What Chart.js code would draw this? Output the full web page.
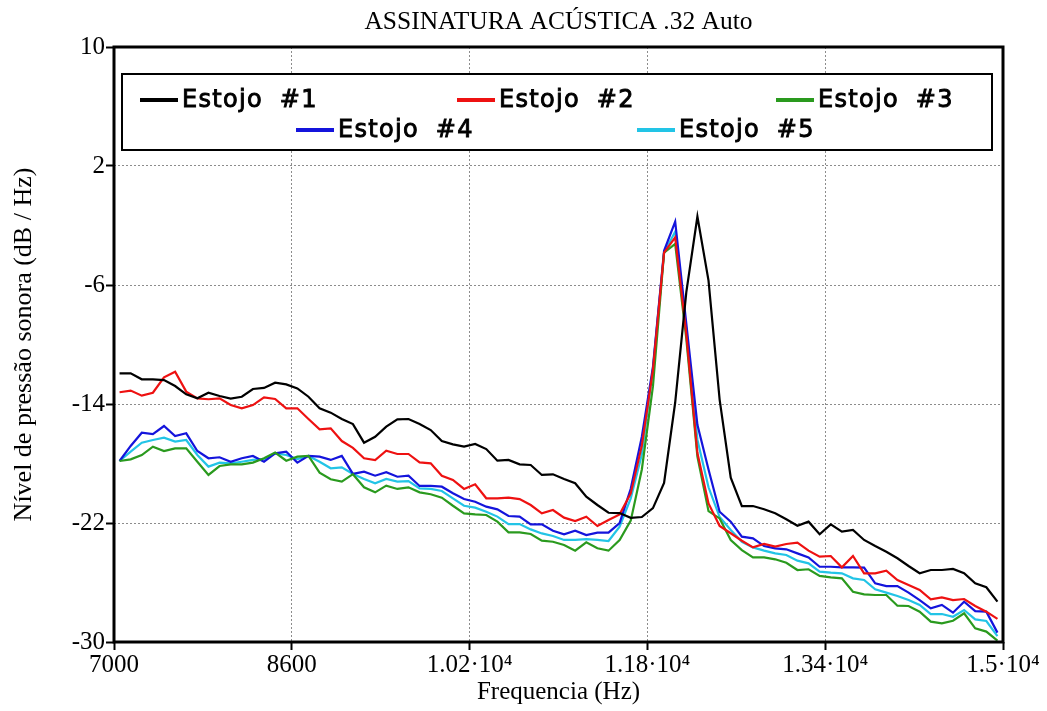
<!DOCTYPE html>
<html>
<head>
<meta charset="utf-8">
<script src="https://cdn.jsdelivr.net/npm/chart.js@4.4.1/dist/chart.umd.min.js"></script>
<style>
  html, body { margin: 0; padding: 0; background: #fff; }
  #wrap { width: 1047px; height: 711px; }
</style>
</head>
<body>
<div id="wrap"><canvas id="grafico"></canvas></div>
<script>
const titulo = 'ASSINATURA ACÚSTICA .32 Auto';
const legendas = ['Estojo #1', 'Estojo #2', 'Estojo #3', 'Estojo #4', 'Estojo #5'];
const cores = ['#000000', '#ee1111', '#2a9a1e', '#1414dc', '#22c4e6'];

const frequencia = [
  7050, 7150, 7250, 7350, 7450, 7550, 7650, 7750, 7850, 7950,
  8050, 8150, 8250, 8350, 8450, 8550, 8650, 8750, 8850, 8950,
  9050, 9150, 9250, 9350, 9450, 9550, 9650, 9750, 9850, 9950,
  10050, 10150, 10250, 10350, 10450, 10550, 10650, 10750, 10850, 10950,
  11050, 11150, 11250, 11350, 11450, 11550, 11650, 11750, 11850, 11950,
  12050, 12150, 12250, 12350, 12450, 12550, 12650, 12750, 12850, 12950,
  13050, 13150, 13250, 13350, 13450, 13550, 13650, 13750, 13850, 13950,
  14050, 14150, 14250, 14350, 14450, 14550, 14650, 14750, 14850, 14950
];

const estojo1 = [
  -11.94, -11.94, -12.34, -12.34, -12.39, -12.79, -13.35, -13.62, -13.24, -13.46,
  -13.64, -13.51, -12.99, -12.92, -12.57, -12.68, -12.95, -13.51, -14.29, -14.58,
  -15.01, -15.35, -16.60, -16.20, -15.52, -15.03, -15.01, -15.34, -15.75, -16.49,
  -16.71, -16.87, -16.69, -17.03, -17.81, -17.76, -18.06, -18.10, -18.77, -18.73,
  -19.04, -19.33, -20.23, -20.79, -21.31, -21.33, -21.65, -21.60, -21.00, -19.30,
  -13.90, -6.50, -1.40, -5.70, -13.70, -18.95, -20.86, -20.86, -21.08, -21.35,
  -21.75, -22.18, -21.91, -22.76, -22.09, -22.58, -22.47, -23.14, -23.55, -23.93,
  -24.37, -24.89, -25.38, -25.16, -25.16, -25.09, -25.38, -26.06, -26.32, -27.29
];
const estojo2 = [
  -13.21, -13.10, -13.44, -13.24, -12.21, -11.83, -13.17, -13.62, -13.68, -13.62,
  -14.07, -14.29, -14.07, -13.55, -13.66, -14.29, -14.29, -15.01, -15.70, -15.64,
  -16.49, -16.95, -17.65, -17.77, -17.14, -17.36, -17.36, -17.92, -17.99, -18.82,
  -19.11, -19.71, -19.40, -20.34, -20.34, -20.30, -20.39, -20.79, -21.35, -21.13,
  -21.64, -21.87, -21.58, -22.20, -21.80, -21.42, -20.01, -16.80, -11.70, -3.83,
  -2.80, -9.30, -17.30, -20.68, -22.20, -22.69, -23.19, -23.64, -23.41, -23.59,
  -23.41, -23.32, -23.86, -24.26, -24.22, -24.98, -24.22, -25.38, -25.38, -25.20,
  -25.83, -26.17, -26.50, -27.13, -27.00, -27.18, -27.11, -27.58, -27.96, -28.45
];
const estojo3 = [
  -17.83, -17.72, -17.43, -16.87, -17.16, -16.98, -16.98, -17.88, -18.77, -18.17,
  -18.06, -18.06, -17.94, -17.65, -17.27, -17.81, -17.54, -17.49, -18.62, -19.06,
  -19.22, -18.72, -19.60, -19.94, -19.49, -19.71, -19.60, -19.94, -20.07, -20.30,
  -20.84, -21.35, -21.42, -21.46, -21.91, -22.63, -22.63, -22.74, -23.19, -23.26,
  -23.48, -23.86, -23.30, -23.70, -23.86, -23.14, -21.84, -18.40, -12.80, -3.83,
  -3.24, -9.60, -17.54, -21.20, -21.69, -23.14, -23.82, -24.31, -24.31, -24.44,
  -24.67, -25.16, -25.11, -25.56, -25.65, -25.72, -26.62, -26.80, -26.84, -26.84,
  -27.56, -27.58, -27.96, -28.63, -28.74, -28.57, -28.07, -29.08, -29.30, -29.91
];
const estojo4 = [
  -17.83, -16.82, -15.93, -16.02, -15.48, -16.15, -15.97, -17.16, -17.65, -17.58,
  -17.88, -17.65, -17.49, -17.88, -17.32, -17.20, -17.94, -17.49, -17.54, -17.76,
  -17.49, -18.70, -18.55, -18.82, -18.59, -18.89, -18.82, -19.51, -19.51, -19.56,
  -20.00, -20.39, -20.57, -20.90, -21.08, -21.53, -21.57, -22.09, -22.09, -22.52,
  -22.76, -22.52, -22.81, -22.65, -22.65, -22.00, -19.70, -16.20, -11.50, -3.70,
  -1.74, -8.60, -15.40, -18.40, -21.24, -21.91, -22.92, -23.03, -23.55, -23.70,
  -23.77, -24.04, -24.31, -24.94, -24.94, -24.98, -24.98, -25.00, -26.06, -26.24,
  -26.24, -26.68, -27.18, -27.74, -27.51, -28.03, -27.29, -27.92, -27.96, -29.37
];
const estojo5 = [
  -17.83, -17.20, -16.60, -16.42, -16.26, -16.53, -16.42, -17.43, -18.21, -17.94,
  -17.99, -17.88, -17.76, -17.70, -17.32, -17.43, -17.70, -17.49, -17.88, -18.32,
  -18.26, -18.70, -19.04, -19.33, -19.04, -19.22, -19.18, -19.67, -19.71, -19.85,
  -20.34, -20.84, -20.97, -21.24, -21.57, -22.07, -22.07, -22.43, -22.70, -22.87,
  -23.14, -23.14, -23.08, -23.14, -23.21, -22.25, -20.34, -17.40, -11.60, -3.83,
  -2.41, -9.00, -16.40, -19.60, -21.60, -22.47, -23.26, -23.64, -23.86, -24.04,
  -24.15, -24.53, -24.71, -25.27, -25.34, -25.38, -25.72, -25.83, -26.46, -26.68,
  -26.91, -27.18, -27.51, -28.12, -28.12, -28.30, -27.85, -28.48, -28.59, -29.60
];
const series = [estojo1, estojo2, estojo3, estojo4, estojo5];

const xTicks = ['7000', '8600', '1.02·10⁴', '1.18·10⁴', '1.34·10⁴', '1.5·10⁴'];
const yTicks = ['10', '2', '-6', '-14', '-22', '-30'];

const serif = '"Liberation Serif", "Times New Roman", serif';

// posições da legenda (início da amostra, centro vertical)
const legendaPos = [[140, 100], [457, 100], [776, 100], [296, 130], [637, 130]];

const grade = {
  color: '#8c8c8c',
  lineWidth: 1,
  tickLength: 8,
  tickColor: '#000',
  tickWidth: 2,
  tickBorderDash: []
};

const moldura = {
  id: 'moldura',
  afterDraw(chart) {
    const ctx = chart.ctx;
    const a = chart.chartArea;
    ctx.save();
    ctx.fillStyle = '#000';
    ctx.font = '25.5px ' + serif;
    ctx.textAlign = 'center';
    ctx.textBaseline = 'middle';
    ctx.fillText(titulo, (a.left + a.right) / 2, 22);

    ctx.lineWidth = 3;
    ctx.strokeStyle = '#000';
    ctx.strokeRect(a.left, a.top, a.right - a.left, a.bottom - a.top);

    // legenda
    ctx.fillStyle = '#fff';
    ctx.fillRect(122, 74, 870, 76);
    ctx.lineWidth = 2;
    ctx.strokeRect(122, 74, 870, 76);
    ctx.font = '24px "DejaVu Sans", sans-serif';
    ctx.letterSpacing = '1.3px';
    ctx.wordSpacing = '8px';
    ctx.textAlign = 'left';
    chart.data.datasets.forEach((ds, i) => {
      const [lx, ly] = legendaPos[i];
      ctx.strokeStyle = ds.borderColor;
      ctx.lineWidth = 4;
      ctx.beginPath();
      ctx.moveTo(lx, ly);
      ctx.lineTo(lx + 38, ly);
      ctx.stroke();
      ctx.fillStyle = '#000';
      ctx.strokeStyle = '#000';
      ctx.lineWidth = 0.9;
      ctx.fillText(ds.label, lx + 42, ly + 1);
      ctx.strokeText(ds.label, lx + 42, ly + 1);
    });
    ctx.restore();
  }
};

new Chart(document.getElementById('grafico'), {
  type: 'line',
  data: {
    datasets: series.map((s, i) => ({
      label: legendas[i],
      data: s.map((v, k) => ({ x: frequencia[k], y: v })),
      borderColor: cores[i],
      backgroundColor: cores[i],
      borderWidth: 2.2,
      pointRadius: 0,
      tension: 0,
      fill: false
    }))
  },
  options: {
    responsive: true,
    maintainAspectRatio: false,
    animation: false,
    layout: { padding: { top: 47, right: 44, bottom: 0, left: 0 } },
    plugins: {
      legend: { display: false },
      tooltip: { enabled: false },
      title: { display: false }
    },
    scales: {
      x: {
        type: 'linear',
        min: 7000,
        max: 15000,
        afterBuildTicks: s => { s.ticks = xTicks.map((t, i) => ({ value: 7000 + 1600 * i })); },
        ticks: {
          callback: (v, i) => xTicks[i],
          color: '#000',
          font: { family: serif, size: 25 },
          padding: 0,
          maxRotation: 0,
          autoSkip: false
        },
        grid: grade,
        border: { display: false, dash: [2, 2] },
        title: {
          display: true,
          text: 'Frequencia (Hz)',
          color: '#000',
          font: { family: serif, size: 25 },
          padding: { top: 0, bottom: 4 }
        },
        afterFit: s => { s.height = 69; }
      },
      y: {
        min: -30,
        max: 10,
        afterBuildTicks: s => { s.ticks = yTicks.map(t => ({ value: Number(t) })); },
        ticks: {
          callback: (v, i) => yTicks[i],
          color: '#000',
          font: { family: serif, size: 25 },
          padding: 1,
          autoSkip: false
        },
        grid: grade,
        border: { display: false, dash: [2, 2] },
        title: {
          display: true,
          text: 'Nível de pressão sonora (dB / Hz)',
          color: '#000',
          font: { family: serif, size: 26 },
          padding: { top: 9, bottom: 0 }
        },
        afterFit: s => { s.width = 114; }
      }
    }
  },
  plugins: [moldura]
});
</script>
</body>
</html>
